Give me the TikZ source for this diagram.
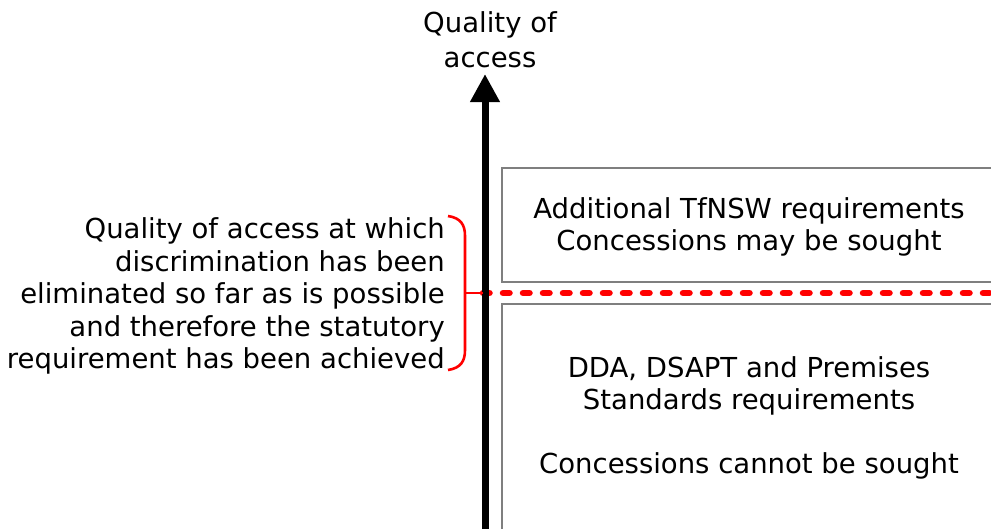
\documentclass[tikz,border=0pt]{standalone}
\usepackage{fontspec}
\setmainfont{DejaVu Sans}
\usetikzlibrary{arrows.meta}
\definecolor{boxgray}{HTML}{7F7F7F}
\tikzset{
  lbl/.style={font=\fontsize{27.5}{32.5}\selectfont, inner sep=0pt, align=center},
  zonebox/.style={draw=boxgray, line width=1.8pt},
  axisline/.style={line width=7pt, -{Triangle[width=28pt,length=28pt]}},
  limitline/.style={red, line width=6.5pt, line cap=round, dash pattern=on 6.5pt off 13.5pt},
  bracket/.style={red, line width=2.6pt}
}
\begin{document}
\begin{tikzpicture}[x=1pt,y=-1pt]
\useasboundingbox (0,0) rectangle (991,528);
\clip (0,0) rectangle (991,528);

% zones
\draw[zonebox] (502,168) rectangle (1010,282);
\draw[zonebox] (502,304) rectangle (1010,560);
\node[lbl] (upper) at (749,227) {Additional TfNSW requirements\\Concessions may be sought};
\node[lbl] (lower1) at (749,386) {DDA, DSAPT and Premises\\Standards requirements};
\node[lbl] (lower2) at (749,466) {Concessions cannot be sought};

% statutory threshold line
\coordinate (limstart) at (483,293);
\coordinate (limend) at (1000,293);
\draw[limitline] (limstart) -- (limend);

% vertical axis
\coordinate (axbot) at (485,540);
\coordinate (axtop) at (485,74);
\draw[axisline] (axbot) -- (axtop);
\node[lbl, font=\fontsize{27.5}{35}\selectfont] (axlabel) at (490,40) {Quality of\\access};

% bracket and its note
\coordinate (brtop) at (448,216);
\coordinate (brbot) at (448,370);
\coordinate (brmid) at (465,293);
\draw[bracket] (brtop) .. controls (461,218) and (465,225) .. (465,236) -- (465,350)
  .. controls (465,361) and (461,368) .. (brbot);
\draw[bracket] (brmid) -- (limstart);
\node[lbl, align=right, anchor=east] (note) at (445,296) {Quality of access at which\\discrimination has been\\eliminated so far as is possible\\and therefore the statutory\\requirement has been achieved};
\end{tikzpicture}
\end{document}
